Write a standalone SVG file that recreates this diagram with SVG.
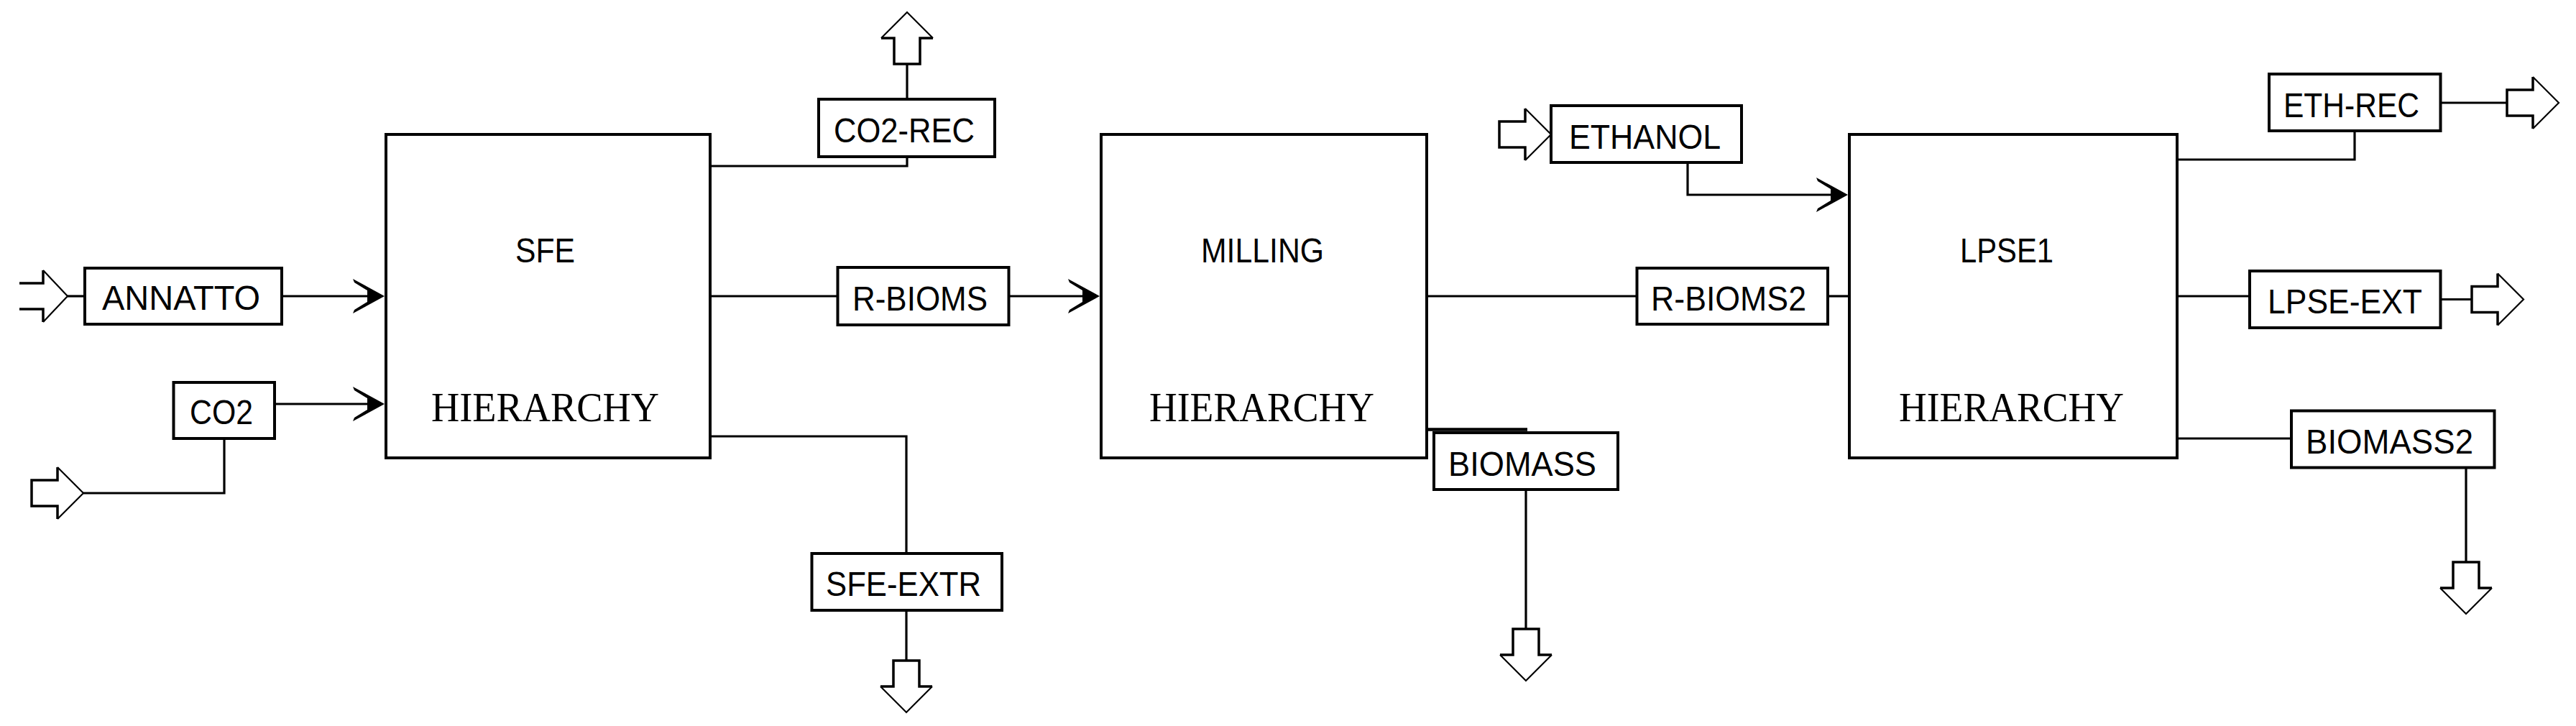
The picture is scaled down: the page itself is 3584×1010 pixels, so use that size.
<svg xmlns="http://www.w3.org/2000/svg" xmlns:xlink="http://www.w3.org/1999/xlink" width="3584" height="1010" viewBox="0 0 3584 1010">
<style>
.unit{fill:#fff;stroke:#000;stroke-width:4}
.strm{fill:#fff;stroke:#000;stroke-width:4}
.ln{fill:none;stroke:#000;stroke-width:3.2}
.lbl{font-family:"Liberation Sans",Arial,sans-serif;font-size:48px;fill:#000}
.hier{font-family:"Liberation Serif","Times New Roman",serif;font-size:56px;fill:#000}
.fat{fill:none;stroke:#000;stroke-width:3.5}
.thin{fill:none;stroke:#000;stroke-width:2.2}
</style>
<defs>
<path id="ah" d="M0,0 L-44,-24 L-42,-19 L-24,-8 L-24,8 L-42,19 L-44,24 Z" fill="#000"/>
<g id="io">
<path class="fat" d="M-36,-36 V-18 H-72 V18 H-36 V36"/>
<path class="thin" d="M-36,-36 L0,0 L-36,36"/>
</g>
</defs>
<rect width="3584" height="1010" fill="#fff"/>

<g id="connectors">
<!-- feeds -->
<path class="fat" d="M27,394 H60 V376"/>
<path class="fat" d="M27,430 H60 V448"/>
<path class="thin" d="M60,376 L94,412 L60,448"/>
<path class="ln" d="M94,412 H118"/>
<path class="ln" d="M392,412 H515"/>
<use xlink:href="#ah" href="#ah" transform="translate(535,412)"/>
<path class="ln" d="M382,562 H515"/>
<use xlink:href="#ah" href="#ah" transform="translate(535,562)"/>
<path class="ln" d="M312,610 V686 H116"/>
<use xlink:href="#io" href="#io" transform="translate(116,686)"/>
<!-- SFE outputs -->
<path class="ln" d="M988,231 H1262 V218"/>
<path class="ln" d="M1262,138 V89"/>
<use xlink:href="#io" href="#io" transform="translate(1262,17) rotate(-90)"/>
<path class="ln" d="M988,412 H1166"/>
<path class="ln" d="M1404,412 H1510"/>
<use xlink:href="#ah" href="#ah" transform="translate(1530,412)"/>
<path class="ln" d="M988,607 H1261 V770"/>
<path class="ln" d="M1261,849 V919"/>
<use xlink:href="#io" href="#io" transform="translate(1261,991) rotate(90)"/>
<!-- MILLING outputs -->
<path class="ln" d="M1985,412 H2278"/>
<path class="ln" d="M2543,412 H2573"/>
<path fill="none" stroke="#000" stroke-width="4.5" d="M1985,597.5 H2125"/>
<path class="ln" d="M2123,681 V875"/>
<use xlink:href="#io" href="#io" transform="translate(2123,947) rotate(90)"/>
<!-- ETHANOL -->
<use xlink:href="#io" href="#io" transform="translate(2158,187)"/>
<path class="ln" d="M2348,226 V271 H2551"/>
<use xlink:href="#ah" href="#ah" transform="translate(2571,271)"/>
<!-- LPSE1 outputs -->
<path class="ln" d="M3029,222 H3276 V182"/>
<path class="ln" d="M3395,143 H3488"/>
<use xlink:href="#io" href="#io" transform="translate(3560,143)"/>
<path class="ln" d="M3029,412 H3130"/>
<path class="ln" d="M3395,416.5 H3440"/>
<use xlink:href="#io" href="#io" transform="translate(3511,416.5)"/>
<path class="ln" d="M3029,610 H3188"/>
<path class="ln" d="M3431,650 V783"/>
<use xlink:href="#io" href="#io" transform="translate(3431,854) rotate(90)"/>
</g>

<g id="SFE">
<rect class="unit" x="537" y="187" width="451" height="450"/>
<text class="lbl" x="717" y="365" textLength="83" lengthAdjust="spacingAndGlyphs">SFE</text>
<text class="hier" x="600" y="586" textLength="317" lengthAdjust="spacingAndGlyphs">HIERARCHY</text>
</g>
<g id="MILLING">
<rect class="unit" x="1532" y="187" width="453" height="450"/>
<text class="lbl" x="1671" y="365" textLength="171" lengthAdjust="spacingAndGlyphs">MILLING</text>
<text class="hier" x="1599" y="586" textLength="313" lengthAdjust="spacingAndGlyphs">HIERARCHY</text>
</g>
<g id="LPSE1">
<rect class="unit" x="2573" y="187" width="456" height="450"/>
<text class="lbl" x="2727" y="365" textLength="130" lengthAdjust="spacingAndGlyphs">LPSE1</text>
<text class="hier" x="2642" y="586" textLength="313" lengthAdjust="spacingAndGlyphs">HIERARCHY</text>
</g>

<g id="ANNATTO">
<rect class="strm" x="118" y="373" width="274" height="78"/>
<text class="lbl" x="142" y="431" textLength="220" lengthAdjust="spacingAndGlyphs">ANNATTO</text>
</g>
<g id="CO2">
<rect class="strm" x="241.5" y="532" width="140.5" height="78"/>
<text class="lbl" x="264" y="590" textLength="88" lengthAdjust="spacingAndGlyphs">CO2</text>
</g>
<g id="CO2-REC">
<rect class="strm" x="1139" y="138" width="245" height="80"/>
<text class="lbl" x="1160" y="198" textLength="196" lengthAdjust="spacingAndGlyphs">CO2-REC</text>
</g>
<g id="R-BIOMS">
<rect class="strm" x="1165.5" y="372" width="238" height="80"/>
<text class="lbl" x="1186" y="432" textLength="188" lengthAdjust="spacingAndGlyphs">R-BIOMS</text>
</g>
<g id="SFE-EXTR">
<rect class="strm" x="1129.5" y="770" width="264.5" height="79"/>
<text class="lbl" x="1149" y="829" textLength="216" lengthAdjust="spacingAndGlyphs">SFE-EXTR</text>
</g>
<g id="BIOMASS">
<rect class="strm" x="1995" y="602" width="256" height="79"/>
<text class="lbl" x="2015" y="662" textLength="206" lengthAdjust="spacingAndGlyphs">BIOMASS</text>
</g>
<g id="ETHANOL">
<rect class="strm" x="2158" y="147" width="265" height="79"/>
<text class="lbl" x="2183" y="207" textLength="211" lengthAdjust="spacingAndGlyphs">ETHANOL</text>
</g>
<g id="R-BIOMS2">
<rect class="strm" x="2277.5" y="373" width="265.5" height="78"/>
<text class="lbl" x="2297" y="432" textLength="216" lengthAdjust="spacingAndGlyphs">R-BIOMS2</text>
</g>
<g id="ETH-REC">
<rect class="strm" x="3157" y="103" width="238.5" height="79"/>
<text class="lbl" x="3177" y="163" textLength="189" lengthAdjust="spacingAndGlyphs">ETH-REC</text>
</g>
<g id="LPSE-EXT">
<rect class="strm" x="3130" y="377" width="265.5" height="79"/>
<text class="lbl" x="3155" y="436" textLength="215" lengthAdjust="spacingAndGlyphs">LPSE-EXT</text>
</g>
<g id="BIOMASS2">
<rect class="strm" x="3188" y="571.5" width="282.5" height="79"/>
<text class="lbl" x="3208" y="631" textLength="233" lengthAdjust="spacingAndGlyphs">BIOMASS2</text>
</g>
</svg>
